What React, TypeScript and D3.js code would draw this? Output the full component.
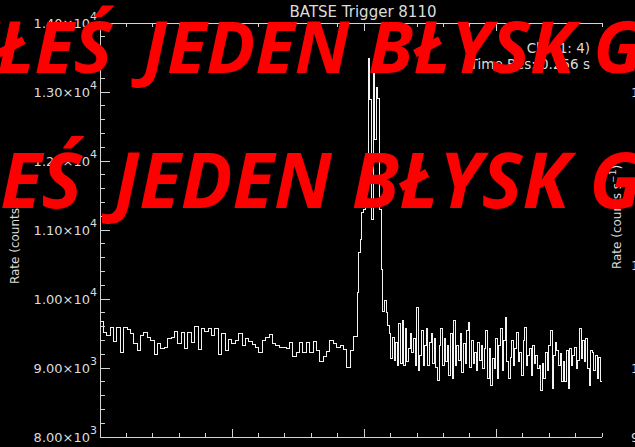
import React, { useEffect, useRef } from 'react';
import * as d3 from 'd3';

// chart texts
const title = 'BATSE Trigger 8110';
const infoLines = ['Ch: (1: 4)', 'Time Res: 0.256 s'];
const overlayWords = ['ZNALAZŁEŚ', 'JEDEN BŁYSK GAMMA'];

// axes
const timeDomain = [-20, 18];
const rateDomain = [8000, 14000];
const xMajorTicks = [-20, -10, 0, 10];
const xMinorTicks = d3.range(-20, 18.001, 2);
const yMajorTicks = [8000, 9000, 10000, 11000, 12000, 13000, 14000];
const yMinorTicks = d3.range(8000, 14001, 200);
const yTickMantissa = ['8.00×10', '9.00×10', '1.00×10', '1.10×10', '1.20×10', '1.30×10', '1.40×10'];
const yTickExponent = ['3', '3', '4', '4', '4', '4', '4'];
// first glyphs of the neighbouring panel's labels, cut by the right edge
const rightEdgeTicks = [13000, 10500, 9000, 8000];
const rightEdgeLabels = ['1.30×10', '1.05×10', '1.00×10', '9.00×10'];

// pre-trigger background, 0.256 s bins starting at -20 s
const preStart = -20;
const preBin = 0.256;
const preRates = [
  9673, 9510, 9471, 9591, 9385, 9591, 9221, 9591, 9558, 9495,
  9351, 9255, 9471, 9510, 9447, 9399, 9192, 9351, 9279, 9303,
  9423, 9447, 9529, 9351, 9519, 9279, 9519, 9375, 9606, 9269,
  9577, 9529, 9567, 9471, 9577, 9192, 9495, 9255, 9413, 9351,
  9399, 9495, 9327, 9433, 9385, 9337, 9303, 9221, 9399, 9447,
  9481, 9351, 9327, 9303, 9303, 9279, 9375, 9173, 9231, 9375,
  9231, 9365, 9231, 9385, 9255, 9087, 9173, 9240, 9399, 9351,
  9303, 9327, 9269, 9014, 9255, 9462
];

// burst and post-burst, fine bins up to the end of the window
const burstRates = [
  10101, 10678, 10866, 11255, 11299, 11515, 12020, 13492, 12886, 11154,
  13319, 12309, 13059, 12900, 11299, 10433, 9812,
  9976, 9808, 9615, 9495, 9135, 9447, 9111, 9375, 9038, 9639,
  9063, 9687, 9038, 9567, 9087, 9279, 9495, 9231, 9423, 9038,
  9880, 8966, 9183, 9543, 9038, 9327, 9577, 9038, 9375, 9495,
  9063, 9423, 9014, 8822, 9327, 9567, 9038, 9423, 9087, 9327,
  8894, 9495, 8846, 9687, 9038, 9327, 9111, 9495, 8942, 9351,
  9063, 9543, 9663, 9014, 9399, 9063, 9231, 8966, 9375, 9111,
  9327, 8990, 9279, 9543, 8846, 9279, 8750, 9135, 8990, 9423,
  8846, 9327, 9567, 8966, 9399, 9736, 9087, 8846, 9159, 9399,
  9038, 9279, 9519, 9087, 9231, 8894, 9399, 9591, 9038, 9183,
  9279, 8894, 9327, 9063, 9183, 8990, 9038, 8678, 9063, 8846,
  9231, 8966, 9327, 9543, 8702, 9183, 9375, 9255, 9038, 9207,
  8798, 9087, 8798, 9255, 8702, 9279, 9038, 9183, 9303, 8990,
  9111, 9567, 9135, 9399, 9087, 9423, 8990, 8750, 9255, 9231,
  8966, 9183, 8846, 9159, 8798
];

const W = 635;
const H = 447;
const AXIS = '#d4d4d4';
const TEXT = '#dcdcdc';
const FONT = "'DejaVu Sans', sans-serif";

const App: React.FC = () => {
  const svgRef = useRef<SVGSVGElement>(null);

  useEffect(() => {
    document.body.style.margin = '0';
    document.body.style.background = '#000';
    if (!svgRef.current) return;

    const svg = d3.select(svgRef.current);
    svg.selectAll('*').remove();

    const margin = { left: 100, right: 33, top: 23, bottom: 10 };
    const x = d3.scaleLinear().domain(timeDomain).range([margin.left, W - margin.right]);
    const y = d3.scaleLinear().domain(rateDomain).range([H - margin.bottom, margin.top]);
    const x0 = x.range()[0], x1 = x.range()[1];
    const yTop = y.range()[1], yBot = y.range()[0];

    svg.append('rect').attr('width', W).attr('height', H).attr('fill', '#000');

    // build the histogram points
    const pts: [number, number][] = [];
    preRates.forEach((v, i) => pts.push([preStart + i * preBin, v]));
    const burstStart = preStart + preRates.length * preBin;
    const burstBin = (timeDomain[1] - burstStart) / burstRates.length;
    burstRates.forEach((v, i) => pts.push([burstStart + i * burstBin, v]));
    pts.push([timeDomain[1], burstRates[burstRates.length - 1]]);

    const line = d3.line<[number, number]>()
      .x(d => x(d[0]))
      .y(d => y(d[1]))
      .curve(d3.curveStepAfter);

    svg.append('path')
      .datum(pts)
      .attr('d', line)
      .attr('fill', 'none')
      .attr('stroke', '#f2f2f2')
      .attr('stroke-width', 1)
      .attr('shape-rendering', 'crispEdges');

    // axes lines
    const axes = svg.append('g')
      .attr('stroke', AXIS)
      .attr('stroke-width', 1)
      .attr('shape-rendering', 'crispEdges');
    axes.append('line').attr('x1', x0).attr('x2', x0).attr('y1', yTop).attr('y2', yBot);
    axes.append('line').attr('x1', x0).attr('x2', x1).attr('y1', yBot).attr('y2', yBot);
    axes.append('line').attr('x1', x0).attr('x2', x1).attr('y1', yTop).attr('y2', yTop);

    // x ticks, bottom (up) and top (down)
    xMinorTicks.forEach(t => {
      const len = xMajorTicks.includes(t) ? 8 : 4;
      axes.append('line').attr('x1', x(t)).attr('x2', x(t)).attr('y1', yBot).attr('y2', yBot - len);
      axes.append('line').attr('x1', x(t)).attr('x2', x(t)).attr('y1', yTop).attr('y2', yTop + len);
    });

    // y ticks
    yMinorTicks.forEach(v => {
      const len = yMajorTicks.includes(v) ? 10 : 5;
      axes.append('line').attr('x1', x0).attr('x2', x0 + len).attr('y1', y(v)).attr('y2', y(v));
    });

    // y tick labels
    yMajorTicks.forEach((v, i) => {
      const t = svg.append('text')
        .attr('x', x0 - 3)
        .attr('y', y(v) + 5)
        .attr('text-anchor', 'end')
        .attr('fill', TEXT)
        .style('font-family', FONT)
        .style('font-size', '13px');
      t.append('tspan').text(yTickMantissa[i]);
      t.append('tspan').attr('dy', -8).style('font-size', '11px').text(yTickExponent[i]);
    });

    // y axis label, left and on the right edge
    const yLabel = (cx: number, cy: number) => {
      const t = svg.append('text')
        .attr('transform', `translate(${cx},${cy}) rotate(-90)`)
        .attr('text-anchor', 'middle')
        .attr('fill', TEXT)
        .style('font-family', FONT)
        .style('font-size', '12px');
      t.append('tspan').text('Rate (counts s');
      t.append('tspan').attr('dy', -5).style('font-size', '9px').text('−1');
      t.append('tspan').attr('dy', 5).text(')');
    };
    yLabel(19, 232);
    yLabel(621, 217);

    rightEdgeTicks.forEach((v, i) => {
      svg.append('text')
        .attr('x', 631)
        .attr('y', y(v) + 5)
        .attr('fill', TEXT)
        .style('font-family', FONT)
        .style('font-size', '13px')
        .text(rightEdgeLabels[i]);
    });

    // title and info
    svg.append('text')
      .attr('x', 363)
      .attr('y', 17)
      .attr('text-anchor', 'middle')
      .attr('fill', TEXT)
      .style('font-family', FONT)
      .style('font-size', '15px')
      .text(title);

    infoLines.forEach((s, i) => {
      svg.append('text')
        .attr('x', 590)
        .attr('y', 53 + i * 16)
        .attr('text-anchor', 'end')
        .attr('fill', TEXT)
        .style('font-family', FONT)
        .style('font-size', '13.5px')
        .text(s);
    });

    // red overlay text, two rows
    const rows = [{ jx: 143, base: 73, size: 72.5 }, { jx: 114, base: 208, size: 76.5 }];
    rows.forEach(r => {
      const g = svg.append('g')
        .attr('fill', '#ff0000')
        .style('font-family', "'Open Sans', sans-serif")
        .style('font-weight', '700')
        .style('font-style', 'italic')
        .style('font-size', `${r.size}px`);
      g.append('text').attr('x', r.jx - r.size * 0.26 - 12).attr('y', r.base).attr('text-anchor', 'end').text(overlayWords[0]);
      g.append('text').attr('x', r.jx).attr('y', r.base).text(overlayWords[1]);
    });
  }, []);

  return (
    <svg
      ref={svgRef}
      width={W}
      height={H}
      style={{ position: 'absolute', left: 0, top: 0, display: 'block' }}
    />
  );
};

export default App;
